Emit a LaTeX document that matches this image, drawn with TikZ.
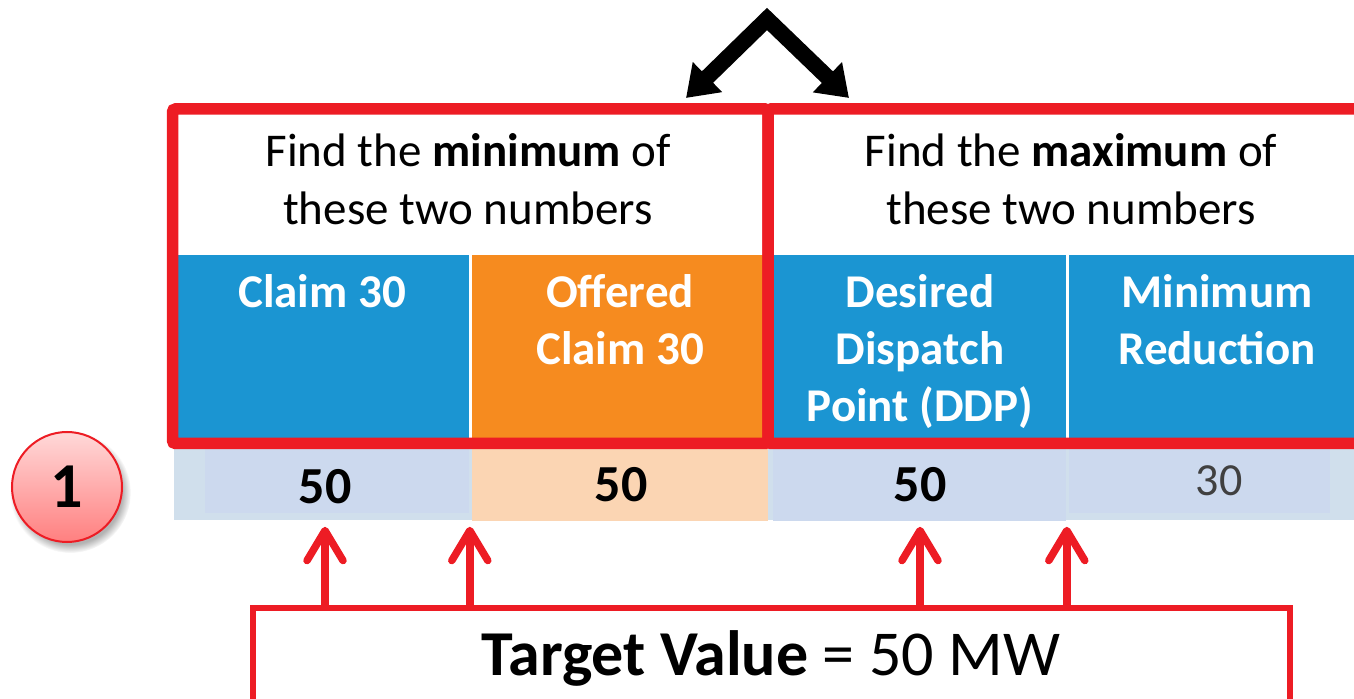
\documentclass[tikz,border=0pt]{standalone}
\usepackage{fontspec}
\setmainfont{Carlito}
\usetikzlibrary{arrows.meta,shadows,positioning}
\definecolor{boxred}{HTML}{ED1C24}
\definecolor{cellblue}{HTML}{1B95D2}
\definecolor{cellorange}{HTML}{F68B1F}
\definecolor{valblue}{HTML}{CCD9EE}
\definecolor{valband}{HTML}{D0DFEC}
\definecolor{valorange}{HTML}{FBD5B3}
\begin{document}
\begin{tikzpicture}[x=0.5pt,y=-0.5pt,
        head/.style={align=center,font=\fontsize{23.5}{29}\selectfont,inner sep=0},
        cell/.style={anchor=north west,inner sep=0,minimum height=92.5pt},
        ctext/.style={anchor=north,align=center,text=white,inner sep=0,font=\fontsize{23.5}{28.5}\selectfont\bfseries},
        valcell/.style={anchor=north west,inner sep=0,minimum height=36pt},
        vtext/.style={inner sep=0,font=\fontsize{26}{26}\selectfont\bfseries},
        redbox/.style={draw=boxred,line width=5.75pt,rounded corners=1.5pt},
        uparrow/.style={draw=boxred,line width=3.75pt,line cap=round,shorten >=2.5pt,-{Straight Barb[length=15pt,width=18pt,round]}},
        chevron/.style={line width=8pt,line join=miter,{Triangle[length=15pt,width=20pt]}-{Triangle[length=15pt,width=20pt]}}
        ]
\useasboundingbox (0,0) rectangle (1354,699);
% header texts
\node[head] (hmin) at (468,179) {Find the \textbf{minimum} of\\these two numbers};
\node[head] (hmax) at (1071,179) {Find the \textbf{maximum} of\\these two numbers};
% coloured cells
\node[cell,fill=cellblue,minimum width=145.5pt] (c1) at (178,255) {};
\node[cell,fill=cellorange,minimum width=148pt] (c2) at (472,255) {};
\node[cell,fill=cellblue,minimum width=149pt] (c3) at (768,255) {};
\node[cell,fill=cellblue,minimum width=150pt] (c4) at (1069,255) {};
\node[ctext] (c1t) at (322,274) {Claim 30};
\node[ctext] (c2t) at (620,274) {Offered\\Claim 30};
\node[ctext] (c3t) at (920,274) {Desired\\Dispatch\\Point (DDP)};
\node[ctext] (c4t) at (1217,274) {Minimum\\Reduction};
% value row
\fill[valband] (174,449) rectangle (1354,520);
\node[valcell,fill=valblue,minimum width=132pt,minimum height=32pt] (vc1) at (205,449) {};
\node[valcell,fill=valorange,minimum width=148pt] (vc2) at (472,449) {};
\node[valcell,fill=valblue,minimum width=146.5pt] (vc3) at (773,449) {};
\node[valcell,fill=valblue,minimum width=130.5pt,minimum height=32pt] (vc4) at (1069,449) {};
\node[vtext] (val1) at (325,487) {50};
\node[vtext] (val2) at (621,485) {50};
\node[vtext] (val3) at (920,485) {50};
\node[inner sep=0,text=black!75,font=\fontsize{23}{23}\selectfont] (val4) at (1219,481) {30};
% red frames
\draw[redbox] (172.5,109) rectangle (768,443.5);
\draw[redbox] (768,109) rectangle (1380,443.5);
% step marker
\node[circle,minimum size=55pt,draw=boxred,line width=1pt,top color=red!15,bottom color=red!50,
      circular drop shadow={shadow xshift=1.5pt,shadow yshift=-2.5pt,opacity=0.6},
      font=\fontsize{32}{32}\selectfont\bfseries] (step1) at (67,487) {1};
% black chevron
\coordinate (apex) at (767,19);
\coordinate (mintip) at (686,98);
\coordinate (maxtip) at (849,98);
\draw[chevron] (mintip) -- (apex) -- (maxtip);
% target box
\node[draw=boxred,line width=3pt,fill=white,minimum width=518.5pt,minimum height=50pt,anchor=north,
      font=\fontsize{32}{32}\selectfont] (target) at (771,605) {\textbf{Target Value} = 50 MW};
\draw[uparrow] (target.north -| val1) -- (val1 |- vc2.south);
\draw[uparrow] (target.north -| c1.east) -- (c1.east |- vc2.south);
\draw[uparrow] (target.north -| val3) -- (val3 |- vc2.south);
\draw[uparrow] (target.north -| c3.east) -- (c3.east |- vc2.south);
\end{tikzpicture}
\end{document}
